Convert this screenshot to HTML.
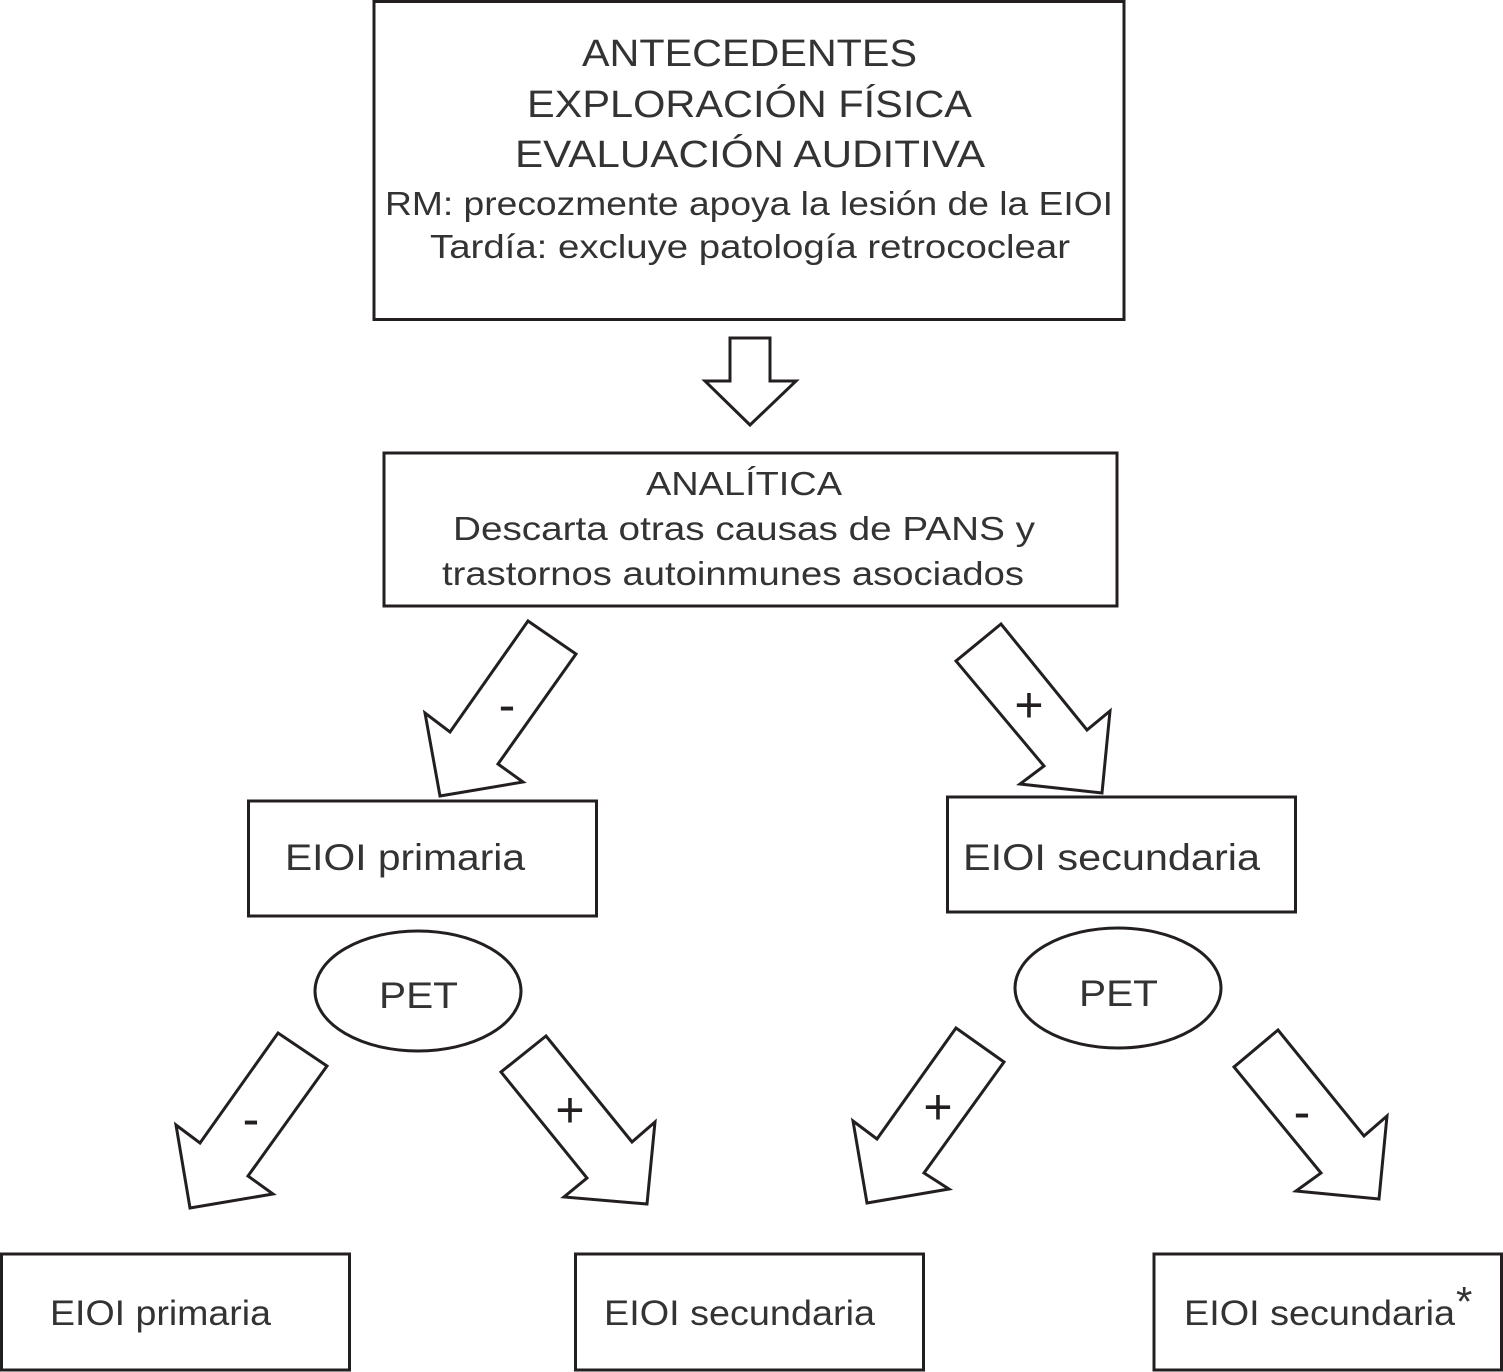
<!DOCTYPE html>
<html><head><meta charset="utf-8"><style>html,body{margin:0;padding:0;background:#fff}svg{display:block}</style></head>
<body>
<svg width="1503" height="1372" viewBox="0 0 1503 1372" xmlns="http://www.w3.org/2000/svg" font-family="Liberation Sans, Arial, sans-serif" fill="#333">
<g fill="#fff" stroke="#231f20" stroke-width="3" stroke-linejoin="miter">
<rect x="374" y="1.5" width="750" height="318"/>
<polygon points="730,338 770,338 770,381 796,381 750,425 705,381 730,381"/>
<rect x="384" y="453" width="733" height="153"/>
<polygon points="528,621 576,654 498,764 523,782 440,796 425,713 450,732"/>
<polygon points="1001,624 956,661 1044,766 1020,784 1102,793 1110,711 1087,730"/>
<rect x="248.5" y="801" width="348" height="115"/>
<rect x="947.5" y="797" width="348" height="115"/>
<ellipse cx="418" cy="991" rx="103" ry="60"/>
<ellipse cx="1118" cy="988" rx="103" ry="60"/>
<polygon points="278,1033 327,1066 248,1176 273,1194 190,1208 176,1125 200,1143"/>
<polygon points="546,1036 501,1072 587,1178 564,1197 647,1204 655,1122 632,1142"/>
<polygon points="956,1028 1004,1062 924,1173 949,1189 867,1203 853,1121 877,1139"/>
<polygon points="1278,1030 1234,1067 1321,1173 1296,1191 1379,1199 1387,1116 1364,1136"/>
<rect x="1.5" y="1254" width="348" height="116"/>
<rect x="575.5" y="1254" width="348" height="116"/>
<rect x="1154" y="1254" width="347.5" height="116"/>
</g>
<g font-size="38">
<text x="582" y="66" textLength="335" lengthAdjust="spacingAndGlyphs">ANTECEDENTES</text>
<text x="527" y="117" textLength="445" lengthAdjust="spacingAndGlyphs">EXPLORACIÓN FÍSICA</text>
<text x="515" y="167" textLength="470" lengthAdjust="spacingAndGlyphs">EVALUACIÓN AUDITIVA</text>
</g>
<g font-size="33">
<text x="385" y="215" textLength="728" lengthAdjust="spacingAndGlyphs">RM: precozmente apoya la lesión de la EIOI</text>
<text x="430" y="258" textLength="640" lengthAdjust="spacingAndGlyphs">Tardía: excluye patología retrococlear</text>
<text x="646" y="495" textLength="196" lengthAdjust="spacingAndGlyphs">ANALÍTICA</text>
<text x="453" y="540" textLength="582" lengthAdjust="spacingAndGlyphs">Descarta otras causas de PANS y</text>
<text x="442" y="585" textLength="582" lengthAdjust="spacingAndGlyphs">trastornos autoinmunes asociados</text>
</g>
<g font-size="37">
<text x="285" y="870" textLength="240" lengthAdjust="spacingAndGlyphs">EIOI primaria</text>
<text x="963" y="870" textLength="297" lengthAdjust="spacingAndGlyphs">EIOI secundaria</text>
<text x="379" y="1008" textLength="79" lengthAdjust="spacingAndGlyphs">PET</text>
<text x="1079" y="1006" textLength="79" lengthAdjust="spacingAndGlyphs">PET</text>
</g>
<g font-size="35">
<text x="50" y="1325" textLength="221" lengthAdjust="spacingAndGlyphs">EIOI primaria</text>
<text x="604" y="1325" textLength="271" lengthAdjust="spacingAndGlyphs">EIOI secundaria</text>
<text x="1184" y="1325" textLength="271" lengthAdjust="spacingAndGlyphs">EIOI secundaria</text>
<text x="1456" y="1316" font-size="42">*</text>
</g>
<g text-anchor="middle" font-size="50" fill="#231f20">
<text x="507" y="722">-</text>
<text x="1029" y="722">+</text>
<text x="251" y="1136">-</text>
<text x="570" y="1127">+</text>
<text x="938" y="1124">+</text>
<text x="1302" y="1129">-</text>
</g>
</svg>
</body></html>
